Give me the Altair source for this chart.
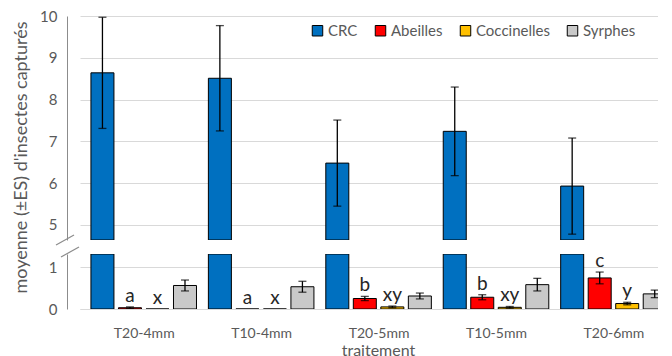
import altair as alt
import pandas as pd

cats = ["T20-4mm", "T10-4mm", "T20-5mm", "T10-5mm", "T20-6mm"]
series = ["CRC", "Abeilles", "Coccinelles", "Syrphes"]
colors = ["#0070C0", "#FF0000", "#FFC000", "#C9C9C9"]

crc = [8.64, 8.51, 6.48, 7.24, 5.93]
crc_se = [1.33, 1.26, 1.03, 1.06, 1.15]
abeilles = [0.03, 0.0, 0.25, 0.28, 0.74]
abeilles_se = [0.02, 0.0, 0.05, 0.06, 0.14]
coccinelles = [0.0, 0.0, 0.05, 0.04, 0.13]
coccinelles_se = [0.0, 0.0, 0.02, 0.02, 0.03]
syrphes = [0.56, 0.53, 0.31, 0.58, 0.36]
syrphes_se = [0.13, 0.13, 0.07, 0.15, 0.09]
letters_abeilles = ["a", "a", "b", "b", "c"]
letters_coccinelles = ["x", "x", "xy", "xy", "y"]

LOW_MAX = 1.31
UP_MIN = 4.64

# layout of the clustered bars (category step ~119.5 px, bar pitch 28 px, bar 23 px)
W = 578
STEP = 119.5
PITCH = 28 / STEP
BAR = 23

rows = []
for k, (s, vals, ses, lets) in enumerate([
    ("CRC", crc, crc_se, [""] * 5),
    ("Abeilles", abeilles, abeilles_se, letters_abeilles),
    ("Coccinelles", coccinelles, coccinelles_se, letters_coccinelles),
    ("Syrphes", syrphes, syrphes_se, [""] * 5),
]):
    for i, (c, v, e, l) in enumerate(zip(cats, vals, ses, lets)):
        rows.append({"cat": c, "series": s, "value": v, "se": e,
                     "xpos": i + (k - 1.5) * PITCH,
                     "lo": v - e, "hi": v + e, "letter": l,
                     "low_top": min(v, LOW_MAX), "up_base": UP_MIN})
df = pd.DataFrame(rows)

FONT = "Lato"
GRAY_TXT = "#595959"

xdom = [-0.5, -0.5 + W / STEP]
xscale = alt.Scale(domain=xdom, nice=False, zero=False)
label_expr = "[" + ",".join("'%s'" % c for c in cats) + "][datum.value]"

color = alt.Color("series:N", scale=alt.Scale(domain=series, range=colors),
                  legend=alt.Legend(title=None, orient="none", direction="horizontal",
                                    columns=4, legendX=230, legendY=7, padding=0,
                                    symbolType="square", symbolSize=110,
                                    symbolStrokeColor="black", symbolStrokeWidth=1,
                                    symbolOpacity=1, labelFontSize=15, labelFont=FONT,
                                    labelColor=GRAY_TXT, columnPadding=15, labelOffset=3))


def yaxis(values, title):
    return alt.Axis(values=values, grid=True, gridColor="#D9D9D9", ticks=False,
                    domainColor="#8C8C8C", offset=13, labelPadding=10, format=".0f",
                    labelFontSize=15, labelFont=FONT, labelColor=GRAY_TXT,
                    title=title, titleFont=FONT, titleFontSize=18,
                    titleFontWeight="normal", titleColor=GRAY_TXT, titleX=-46,
                    titleY=141, titleBaseline="middle", titleAlign="center",
                    titleAngle=-90)


def errorbars(data, x_enc, ys):
    ebase = alt.Chart(data).transform_filter("datum.se > 0")
    rule = ebase.mark_rule(color="black", strokeWidth=1.3, clip=True).encode(
        x=x_enc, y=alt.Y("lo:Q", scale=ys), y2="hi:Q")
    cap_hi = ebase.mark_tick(color="black", thickness=1.3, size=8, orient="horizontal",
                             clip=True).encode(x=x_enc, y=alt.Y("hi:Q", scale=ys))
    cap_lo = ebase.mark_tick(color="black", thickness=1.3, size=8, orient="horizontal",
                             clip=True).encode(x=x_enc, y=alt.Y("lo:Q", scale=ys))
    return [rule, cap_hi, cap_lo]


# ---------- upper panel (CRC only, top part of the broken axis)
up_data = df[df.series == "CRC"]
ys_up = alt.Scale(domain=[UP_MIN, 10], nice=False, zero=False)
x_up = alt.X("xpos:Q", scale=xscale, axis=None)
bars_up = alt.Chart(up_data).mark_bar(stroke="black", strokeWidth=1, size=BAR,
                                      clip=True).encode(
    x=x_up,
    y=alt.Y("up_base:Q", scale=ys_up,
            axis=yaxis([5, 6, 7, 8, 9, 10], "moyenne (±ES) d'insectes capturés")),
    y2="value:Q",
    color=color,
)
upper = alt.layer(bars_up, *errorbars(up_data, x_up, ys_up)).properties(width=W, height=224)

# ---------- lower panel (all series, 0 .. LOW_MAX)
ys_low = alt.Scale(domain=[0, LOW_MAX], nice=False)
xaxis = alt.Axis(values=list(range(len(cats))), labelExpr=label_expr, grid=False,
                 labelAngle=0, ticks=False, domainColor="#D9D9D9", labelFontSize=14,
                 labelFont=FONT, labelColor=GRAY_TXT, labelPadding=17, labelFlush=False,
                 labelOverlap=False,
                 title="traitement", titleFont=FONT, titleFontSize=16,
                 titleFontWeight="normal", titleColor=GRAY_TXT, titlePadding=2,
                 titleX=298, titleAlign="center")
x_low = alt.X("xpos:Q", scale=xscale, axis=xaxis)
x_low_plain = alt.X("xpos:Q", scale=xscale)
bars_low = alt.Chart(df).mark_bar(stroke="black", strokeWidth=1, size=BAR,
                                  clip=True).encode(
    x=x_low,
    y=alt.Y("low_top:Q", scale=ys_low, axis=yaxis([0, 1], None)),
    color=color,
)
low_err = df[df.series != "CRC"]

letters = alt.Chart(df[df.letter != ""]).mark_text(
    baseline="bottom", dy=-1, fontSize=19, font=FONT, color="#262626").encode(
    x=x_low_plain,
    y=alt.Y("hi:Q", scale=ys_low),
    text="letter:N",
)

one = pd.DataFrame({"k": [0]})
slash1 = alt.Chart(one).mark_rule(color="#8C8C8C", strokeWidth=1.2).encode(
    x=alt.value(-24), x2=alt.value(-6), y=alt.value(-9), y2=alt.value(-19))
slash2 = alt.Chart(one).mark_rule(color="#8C8C8C", strokeWidth=1.2).encode(
    x=alt.value(-19), x2=alt.value(-1), y=alt.value(3), y2=alt.value(-7))

lower = alt.layer(bars_low, *errorbars(low_err, x_low_plain, ys_low), letters,
                  slash1, slash2).properties(width=W, height=55)

chart = alt.vconcat(upper, lower, spacing=14, bounds="flush").properties(
    padding={"left": 4, "top": 1, "right": 0, "bottom": 0}
).configure_view(stroke=None)

chart.save("out.html", embed_options={"renderer": "svg", "actions": False})
